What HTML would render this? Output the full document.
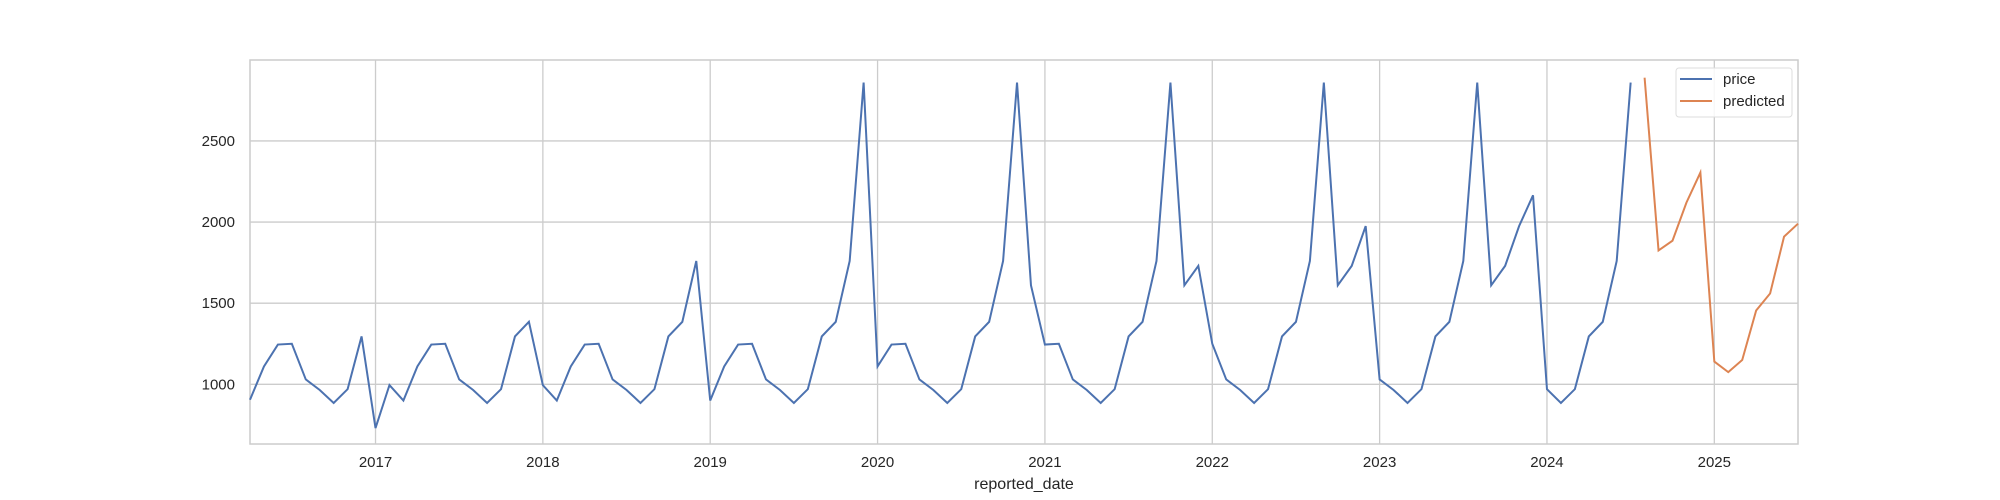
<!DOCTYPE html>
<html><head><meta charset="utf-8"><style>
body{margin:0;background:#fff}
svg{display:block;font-family:"Liberation Sans","DejaVu Sans",sans-serif}
</style></head><body>
<svg id="chart" width="2000" height="500" xmlns="http://www.w3.org/2000/svg"></svg>
<script>
const priceValues=[905,1110,1245,1250,1030,965,885,970,1295,
730,995,900,1110,1245,1250,1030,965,885,970,1295,1385,
995,900,1110,1245,1250,1030,965,885,970,1295,1385,1760,
900,1110,1245,1250,1030,965,885,970,1295,1385,1760,2860,
1110,1245,1250,1030,965,885,970,1295,1385,1760,2860,1610,
1245,1250,1030,965,885,970,1295,1385,1760,2860,1610,1730,
1250,1030,965,885,970,1295,1385,1760,2860,1610,1730,1975,
1030,965,885,970,1295,1385,1760,2860,1610,1730,1975,2165,
970,885,970,1295,1385,1760,2860];
const predictedValues=[2890,1825,1885,2120,2305,1140,1075,1150,1455,1560,1910,1990];
const xTickLabels=["2017","2018","2019","2020","2021","2022","2023","2024","2025"];
const yTickValues=[1000,1500,2000,2500];
const startMonth=3; // April 2016 = month index 3 of 2016
const L=250,R=1798,T=60,B=444,yMin=632,yMax=2999,nMonths=111;
const svg=document.getElementById('chart');
const NS='http://www.w3.org/2000/svg';
function xm(m){return L+(m)/(nMonths)*(R-L);} // m = months since Apr 2016
function yv(v){return B-(v-yMin)/(yMax-yMin)*(B-T);}
function mk(tag,attrs,parent){const e=document.createElementNS(NS,tag);for(const k in attrs)e.setAttribute(k,attrs[k]);(parent||svg).appendChild(e);return e;}
// grid
xTickLabels.forEach((lab,i)=>{
  const x=xm((parseInt(lab)-2016)*12-startMonth);
  const g=mk('line',{x1:x,x2:x,y1:T,y2:B,stroke:'#cccccc','stroke-width':1.3});
  
  
  const t=mk('text',{x:x,y:467,'text-anchor':'middle','font-size':15,fill:'#262626'});
  t.textContent=lab;
  
  
});
yTickValues.forEach(v=>{
  const y=yv(v);
  const g=mk('line',{x1:L,x2:R,y1:y,y2:y,stroke:'#cccccc','stroke-width':1.3});
  
  
  const t=mk('text',{x:235,y:y+5,'text-anchor':'end','font-size':15,fill:'#262626'});
  t.textContent=v;
  
  
});
const fr=mk('rect',{x:L,y:T,width:R-L,height:B-T,fill:'none',stroke:'#cccccc','stroke-width':1.5});


// series
const p1=mk('polyline',{points:priceValues.map((v,i)=>xm(i)+','+yv(v)).join(' '),fill:'none',stroke:'#4c72b0','stroke-width':2});


const off=priceValues.length;
const p2=mk('polyline',{points:predictedValues.map((v,i)=>xm(off+i)+','+yv(v)).join(' '),fill:'none',stroke:'#dd8452','stroke-width':2});


// x label
const xl=mk('text',{x:1024,y:489,'text-anchor':'middle','font-size':16,fill:'#262626'});
xl.textContent='reported_date';


// legend
const lg=mk('g',{});


mk('rect',{x:1676,y:68,width:116,height:49,rx:3,fill:'#fff','fill-opacity':0.85,stroke:'#dddddd'},lg);
[['price','#4c72b0',79],['predicted','#dd8452',101]].forEach(([n,c,y])=>{
  const e=mk('g',{},lg);
  
  
  mk('line',{x1:1680,x2:1712,y1:y,y2:y,stroke:c,'stroke-width':2},e);
  const t=mk('text',{x:1723,y:y+5,'font-size':15,fill:'#262626'},e);
  t.textContent=n;
});
</script>
</body></html>
